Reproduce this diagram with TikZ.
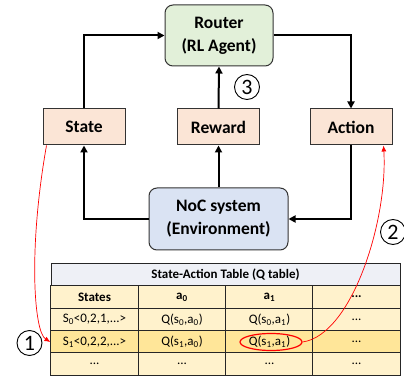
\documentclass[tikz,border=0pt]{standalone}
\usepackage{fontspec}
\setmainfont{Carlito}
\usepackage{xcolor}
\usetikzlibrary{arrows.meta, positioning, shapes.geometric}

\definecolor{agentgreen}{HTML}{E2F0D9}
\definecolor{sigpeach}{HTML}{FBE5D6}
\definecolor{envblue}{HTML}{DAE3F3}
\definecolor{tabhead}{HTML}{EEF0F6}
\definecolor{tabrow}{HTML}{FFF2CC}
\definecolor{tabsel}{HTML}{FFE699}

\begin{document}
\begin{tikzpicture}[x=1pt, y=-1pt,
		bigbox/.style={draw=black!80, line width=1pt, rounded corners=8pt, inner sep=0pt, align=center,
			font=\bfseries\fontsize{17.5}{23}\selectfont},
		sigbox/.style={draw=black!80, line width=1pt, fill=sigpeach, minimum width=82pt, minimum height=36pt,
			inner sep=0pt, font=\bfseries\fontsize{17.5}{22}\selectfont},
		flow/.style={line width=2pt, -{Triangle[length=7pt,width=7pt]}},
		redflow/.style={red, line width=0.7pt, -{Latex[length=6pt,width=5pt]}},
		stepnum/.style={draw, circle, line width=0.9pt, minimum size=25pt, inner sep=0pt,
			font=\fontsize{22}{22}\selectfont},
		cell/.style={draw=black!85, line width=0.9pt, fill=tabrow, minimum width=87.25pt, minimum height=22.4pt,
			inner sep=0pt, font=\fontsize{13}{15}\selectfont},
		selcell/.style={cell, fill=tabsel}]
		
		\useasboundingbox (0,0) rectangle (404,379);
		
		% Agent and environment
		\node[bigbox, fill=agentgreen, minimum width=108pt, minimum height=61pt] (router) at (219,35.5) {Router\\(RL Agent)};
		\node[bigbox, fill=envblue, minimum width=139pt, minimum height=62pt] (noc) at (218.5,219) {NoC system\\(Environment)};
		
		% Signals
		\node[sigbox] (state)  at (84,127)    {State};
		\node[sigbox] (reward) at (218.5,127) {Reward};
		\node[sigbox] (action) at (351,127)   {Action};
		
		% Loop arrows
		\draw[flow] (state.north) |- (router.west);
		\draw[flow] (router.east) -| (action.north);
		\draw[flow] (reward.north) -- (router.south);
		\draw[flow] (noc.north) -- (reward.south);
		\draw[flow] (noc.west) -| (state.south);
		\draw[flow] (action.south) |- (noc.east);
		
		% State-Action table
		\node[cell, fill=tabhead, minimum width=349pt, minimum height=23pt, font=\bfseries\fontsize{13}{15}\selectfont]
			(qhead) at (225.5,274.5) {State-Action Table (Q table)};
		
		% Column titles
		\node[cell, font=\bfseries\fontsize{13}{15}\selectfont] (c-0-1) at (94.5,297)  {States};
		\node[cell, font=\bfseries\fontsize{13}{15}\selectfont] (c-0-2) at (182,297)   {a\textsubscript{0}};
		\node[cell, font=\bfseries\fontsize{13}{15}\selectfont] (c-0-3) at (269.5,297) {a\textsubscript{1}};
		\node[cell, font=\bfseries\fontsize{13}{15}\selectfont] (c-0-4) at (356.5,297) {...};
		
		% s_0
		\node[cell] (c-1-1) at (94.5,319.5)  {S\textsubscript{0}<0,2,1,...>};
		\node[cell] (c-1-2) at (182,319.5)   {Q(s\textsubscript{0},a\textsubscript{0})};
		\node[cell] (c-1-3) at (269.5,319.5) {Q(s\textsubscript{0},a\textsubscript{1})};
		\node[cell] (c-1-4) at (356.5,319.5) {...};
		
		% s_1 (current state)
		\node[selcell] (c-2-1) at (94.5,342)  {S\textsubscript{1}<0,2,2,...>};
		\node[selcell] (c-2-2) at (182,342)   {Q(s\textsubscript{1},a\textsubscript{0})};
		\node[selcell] (c-2-3) at (269.5,342) {Q(s\textsubscript{1},a\textsubscript{1})};
		\node[selcell] (c-2-4) at (356.5,342) {...};
		
		% remaining states
		\node[cell] (c-3-1) at (94.5,364)  {...};
		\node[cell] (c-3-2) at (182,364)   {...};
		\node[cell] (c-3-3) at (269.5,364) {...};
		\node[cell] (c-3-4) at (356.5,364) {...};
		
		% Chosen action
		\node[draw=red, line width=1.2pt, ellipse, minimum width=62pt, minimum height=17pt] (qsel) at (271,342) {};
		
		% Lookup and choice
		\draw[redflow] ([xshift=4pt]state.south west) .. controls (28,250) and (34,332) .. (c-2-1.west);
		\draw[redflow] (qsel.east) .. controls (352,335) and (388,220) .. ([xshift=-9pt]action.south east);
		
		% Step numbers
		\node[stepnum] (n1) at (29.5,343) {1};
		\node[stepnum] (n2) at (393,232)  {2};
		\node[stepnum] (n3) at (247,87)   {3};
		
	\end{tikzpicture}
\end{document}
